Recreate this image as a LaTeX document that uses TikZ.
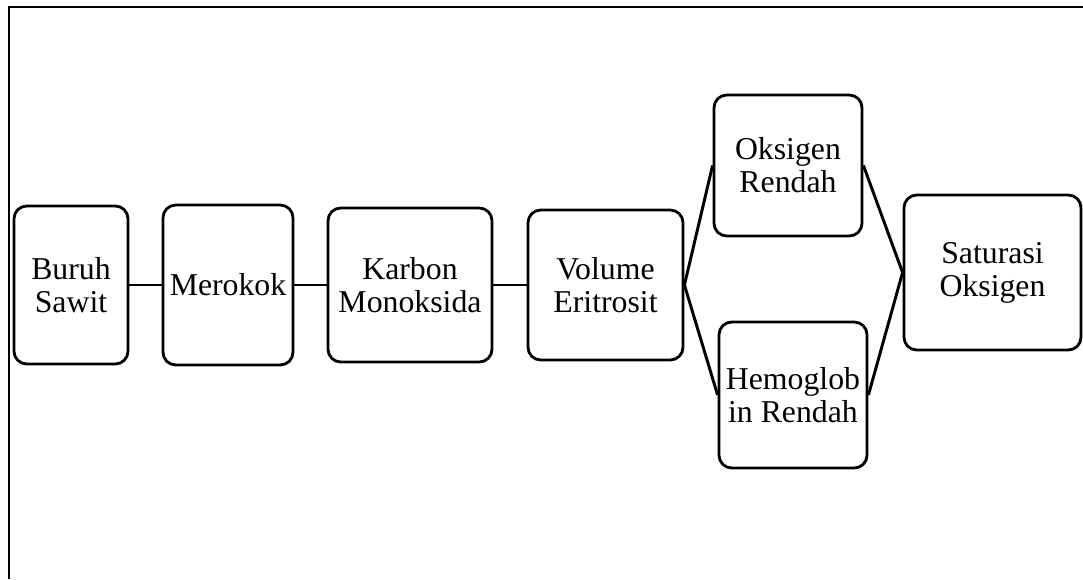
\documentclass[tikz,border=0pt]{standalone}
\usepackage{fontspec}
\setmainfont{Liberation Serif}
\usepackage{tikz}
\usetikzlibrary{positioning}

\tikzset{
	blok/.style={draw, line width=2pt, rounded corners=0.32cm, align=center,
		inner sep=0pt, font=\fontsize{22.6}{23.4}\selectfont},
	garis/.style={line width=2.1pt}
}

\begin{document}
\begin{tikzpicture}[x=0.025cm, y=-0.025cm]
		\useasboundingbox (0,0) rectangle (1083,579);

		% bingkai
		\draw[line width=1.8pt] (9,579) -- (9,7) -- (1083,7);

		\node[blok, minimum width=2.85cm, minimum height=3.95cm] (buruh) at (71,285) {Buruh\\Sawit};
		\node[blok, minimum width=3.25cm, minimum height=4cm] (rokok) at (228,285) {Merokok};
		\node[blok, minimum width=4.1cm, minimum height=3.85cm] (karbon) at (410,285) {Karbon\\Monoksida};
		\node[blok, minimum width=3.875cm, minimum height=3.75cm] (volume) at (605.5,285) {Volume\\Eritrosit};
		\node[blok, minimum width=3.7cm, minimum height=3.525cm] (oksigen) at (788,165.5) {Oksigen\\Rendah};
		\node[blok, minimum width=3.7cm, minimum height=3.65cm] (hb) at (793,395) {Hemoglob\\in Rendah};
		\node[blok, minimum width=4.425cm, minimum height=3.875cm] (saturasi) at (992.5,272.5) {Saturasi\\Oksigen};

		\draw[garis] (buruh) -- (rokok);
		\draw[garis] (rokok) -- (karbon);
		\draw[garis] (karbon) -- (volume);
		\draw[garis] (volume.east) -- (oksigen.west);
		\draw[garis] (volume.east) -- (hb.west);
		\draw[garis] (oksigen.east) -- (saturasi.west);
		\draw[garis] (hb.east) -- (saturasi.west);
    \end{tikzpicture}
\end{document}
